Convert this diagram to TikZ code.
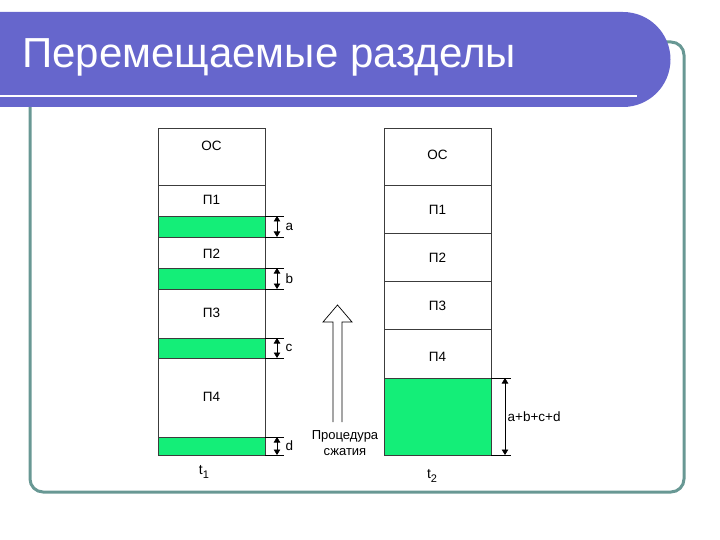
\documentclass[tikz,border=0pt]{standalone}
\usepackage{fontspec}
\setmainfont{Liberation Sans}
\usetikzlibrary{arrows.meta}
\definecolor{titleblue}{RGB}{102,102,204}
\definecolor{frameteal}{RGB}{104,152,148}
\definecolor{freegreen}{RGB}{20,238,120}
\definecolor{cellline}{RGB}{60,60,60}
\tikzset{
  cell/.style={draw=cellline,line width=0.7pt},
  hole/.style={cell,fill=freegreen},
  lbl/.style={font=\fontsize{13.5}{15}\selectfont},
  tlbl/.style={font=\fontsize{14}{16}\selectfont},
  dim/.style={line width=0.7pt,{Triangle[length=5.5pt,width=6.5pt]}-{Triangle[length=5.5pt,width=6.5pt]}},
  ext/.style={line width=0.7pt}
}
\newcommand{\tsub}[1]{t\raisebox{-4pt}{\fontsize{11}{12}\selectfont #1}}
\begin{document}
\begin{tikzpicture}[x=1pt,y=-1pt]
					\useasboundingbox (0,0) rectangle (720,540);
					%FRAME
					\draw[frameteal,line width=3pt,rounded corners=13pt] (30,42) rectangle (684,492);
					\fill[titleblue] (0,12) -- (623,12) arc[start angle=-90,end angle=90,radius=47.5] -- (0,107) -- cycle;
					\draw[white,line width=2.5pt] (0,96) -- (637,96);
					\node[anchor=base west,text=white,font=\fontsize{42}{42}\selectfont,inner sep=0pt] (title) at (22,68) {Перемещаемые разделы};
					%LEFT COLUMN t1
					\draw[cell] (158,128) rectangle (265,185);
					\draw[cell] (158,185) rectangle (265,216);
					\draw[hole] (158,216) rectangle (265,237);
					\draw[cell] (158,237) rectangle (265,268);
					\draw[hole] (158,268) rectangle (265,289);
					\draw[cell] (158,289) rectangle (265,338);
					\draw[hole] (158,338) rectangle (265,358);
					\draw[cell] (158,358) rectangle (265,437);
					\draw[hole] (158,437) rectangle (265,455);
					\node[lbl] (os1) at (211.5,146) {ОС};
					\node[lbl] (p11) at (211.5,200) {П1};
					\node[lbl] (p21) at (211.5,254) {П2};
					\node[lbl] (p31) at (211.5,313) {П3};
					\node[lbl] (p41) at (211.5,397) {П4};
					\foreach \nm/\ya/\yb in {a/216/237,b/268/289,c/338/358,d/437/455}{
						\draw[ext] (265,\ya) -- (284,\ya);
						\draw[ext] (265,\yb) -- (284,\yb);
						\coordinate (\nm top) at (277,\ya);
						\coordinate (\nm bot) at (277,\yb);
						\draw[dim] (\nm top) -- node[lbl,right,xshift=5pt] (\nm lbl) {\nm} (\nm bot);
					}
					\node[tlbl] (t1) at (204,472) {\tsub{1}};
					%ARROW
					\draw[line width=0.7pt] (333,422) -- (333,322) -- (323,322) -- (337.5,305) -- (352,322) -- (342,322) -- (342,422);
					\node[font=\fontsize{13}{16}\selectfont,align=center] (proc) at (345,443) {Процедура\\сжатия};
					%RIGHT COLUMN t2
					\draw[cell] (384,128) rectangle (491,185);
					\draw[cell] (384,185) rectangle (491,233);
					\draw[cell] (384,233) rectangle (491,281);
					\draw[cell] (384,281) rectangle (491,329);
					\draw[cell] (384,329) rectangle (491,378);
					\draw[hole] (384,378) rectangle (491,455);
					\node[lbl] (os2) at (437.5,155) {ОС};
					\node[lbl] (p12) at (437.5,210) {П1};
					\node[lbl] (p22) at (437.5,258) {П2};
					\node[lbl] (p32) at (437.5,306) {П3};
					\node[lbl] (p42) at (437.5,357) {П4};
					\draw[ext] (491,378) -- (511,378);
					\draw[ext] (491,455) -- (511,455);
					\coordinate (sumtop) at (505,378);
					\coordinate (sumbot) at (505,455);
					\draw[dim] (sumtop) -- node[lbl,right,xshift=-1pt] (sumlbl) {a+b+c+d} (sumbot);
					\node[tlbl] (t2) at (432,476) {\tsub{2}};
\end{tikzpicture}
\end{document}
